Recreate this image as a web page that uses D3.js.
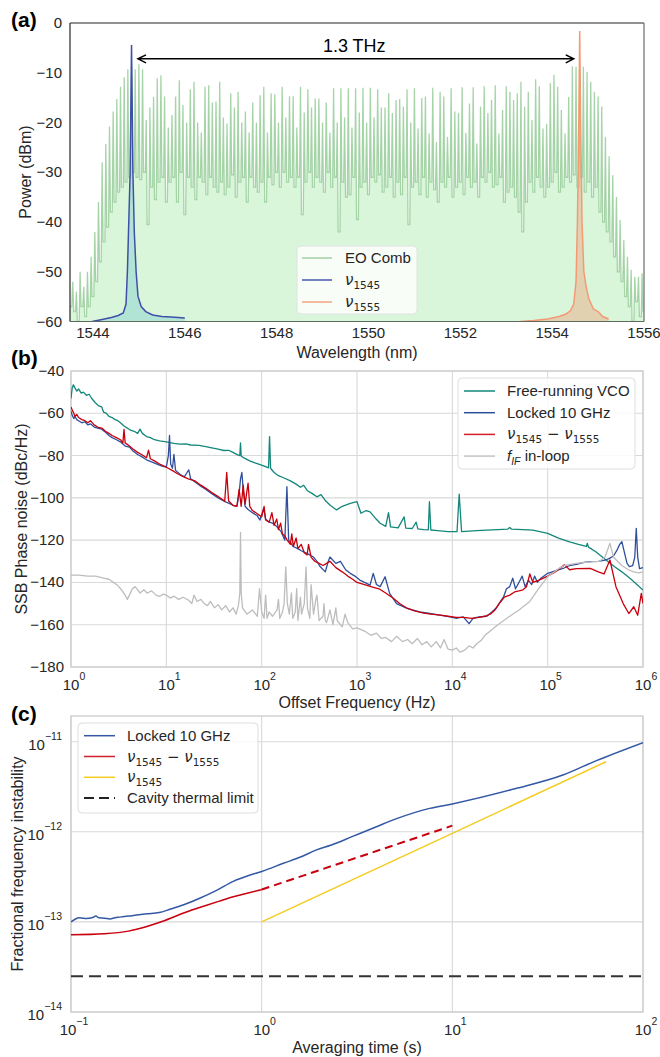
<!DOCTYPE html>
<html>
<head>
<meta charset="UTF-8">
<title>EO comb phase noise</title>
<script src="https://cdn.jsdelivr.net/npm/d3@7"></script>
<style>
body{margin:0;background:#fff;}
svg{font-family:"Liberation Sans",Arial,sans-serif;}
</style>
</head>
<body>
<div id="chart"></div>
<script>
// ---- (a) optical spectrum ----
var combStart = 1543.56, combStep = 0.08; // 10 GHz line spacing
var combPeak = [
 -52,-54,-50,-53,-50,-47,-42,-36,-28,-24.3,
 -20.8,-17.8,-15.3,-12.8,-10.9,-9.3,-8.6,-9.3,-8.3,-9.3,
 -19.5,-17,-14.9,-11.1,-10.5,-14.8,-21,-18.5,-14.8,-11.5,
 -16.5,-20,-13.3,-11.8,-20,-22,-12.8,-12.5,-16,-15.8,
 -11.8,-19,-20.2,-14.1,-17,-13.8,-20,-17.8,-22,-16,
 -20,-14.5,-12.8,-22,-14.1,-14.3,-20,-12.8,-19,-14.7,
 -14.7,-21,-12.8,-18,-13.3,-17,-15.2,-15.2,-20,-16,
 -22,-13.1,-20,-13.1,-19,-13.1,-21,-13.1,-18,-13,
 -20,-13,-19,-13.3,-17,-17,-14.1,-18.1,-15.5,-15.3,
 -16.8,-13.3,-20,-13.1,-21.2,-15.1,-14.8,-22.2,-13,-23.9,
 -13.8,-14.8,-22.9,-13.1,-17.8,-18.1,-12.9,-22.1,-16.2,-12.9,
 -24.2,-16.8,-12.7,-18.1,-15.5,-12.5,-22.2,-17.5,-12.7,-13.8,
 -15.5,-14.1,-11.8,-16.8,-13.8,-19.5,-11.3,-12.7,-21.2,-20.3,
 -12.1,-10.4,-12.8,-17.5,-22.2,-14.9,-8.7,-8.8,-9.5,-8.8,
 -9.8,-11.8,-13.8,-14.8,-16.8,-22.9,-26.8,-30.6,-35,-39.6,
 -43.6,-47,-49.6,-51,-51,-50.3
];
var combTrough = [
 -58,-60,-57,-59,-57,-55,-52,-48,-44,-41,
 -38,-36,-34,-33,-32,-31,-30,-31,-31.5,-30,
 -40.5,-33,-35.5,-32,-31,-36,-32,-31,-36,-30,
 -38.5,-31,-33,-35.5,-31,-32,-34.5,-31,-33,-34,
 -32,-34.5,-33,-30.5,-35,-32,-31,-36,-31,-33,
 -34,-32,-36,-31,-32.5,-30,-33,-30,-32,-31,
 -33,-31,-38.5,-32,-30,-33,-31,-32,-34,-30,
 -33,-31,-42,-32,-35,-34.5,-31,-39.5,-33,-32,
 -34.5,-31,-32,-30.5,-34,-33,-31,-35,-32,-34.5,
 -31,-40.5,-33,-32,-34.5,-31,-35,-32,-33.5,-36,
 -32,-33,-31,-35,-33,-32,-34.5,-31,-33,-32,
 -35,-31,-32,-30,-33,-32.5,-31,-36,-34,-33,
 -35,-38,-42,-36,-32,-34,-31,-33,-35,-33,
 -32,-30,-34,-33,-31,-32,-30.5,-33,-31,-34,
 -32,-35,-33,-38,-40,-42,-44,-47,-50,-52,
 -55,-57,-60,-56,-59,-58
];
var nu45Wl = [1543.98,1544.2,1544.4,1544.55,1544.66,1544.72,1544.75,1544.78,1544.81,1544.84,1544.87,1544.9,1544.94,1544.98,1545.05,1545.15,1545.3,1545.5,1545.7,1546.0];
var nu45Db = [-60,-59.6,-59.2,-58.8,-58.3,-56.5,-50,-40,-30,-4.4,-30,-42,-50,-54.9,-57,-58,-58.7,-59,-59.1,-59.3];
var nu55Wl = [1553.3,1553.6,1553.9,1554.15,1554.3,1554.4,1554.47,1554.52,1554.55,1554.58,1554.6,1554.62,1554.65,1554.69,1554.74,1554.8,1554.9,1555.0,1555.1,1555.23];
var nu55Db = [-60,-59.8,-59.5,-59,-58.5,-57.8,-56.5,-52,-40,-20,-1.6,-20,-40,-50,-53,-55.5,-57.5,-58,-59,-59.5];
var aXTicks = [1544,1546,1548,1550,1552,1554,1556];
var aYTicks = [-60,-50,-40,-30,-20,-10,0];

// ---- (b) phase noise: [offset Hz, dBc/Hz] ----
var vco = [[1,-53],[1.03,-48],[1.06,-46.5],[1.1,-48],[1.15,-49.5],[1.2,-48.5],[1.28,-50.5],[1.35,-50],[1.45,-51.5],[1.55,-51],[1.65,-53],[1.8,-55],[1.95,-56.5],[2.1,-57],[2.2,-59.5],[2.35,-60],[2.5,-61.5],[2.7,-62],[2.9,-63],[3.1,-63.5],[3.3,-64.5],[3.6,-66],[3.9,-67],[4.2,-68],[4.6,-68.5],[5.0,-69.5],[5.3,-67.5],[5.6,-69.5],[6.2,-71],[6.8,-71.5],[7.5,-72.5],[8.5,-73],[10,-73.5],[12,-74.2],[14,-74.6],[16,-74.5],[18,-75],[22,-75.2],[26,-75.8],[30,-76.4],[35,-77],[40,-77.6],[45,-77.5],[50,-78.5],[56,-79.7],[59,-80],[60,-74],[61,-80.3],[66,-81.2],[75,-82.5],[85,-83.5],[100,-84.5],[110,-85.2],[118,-85.8],[121,-71],[124,-86],[135,-88],[150,-89.5],[170,-90.5],[200,-92],[230,-93.5],[255,-95],[275,-94],[300,-96.5],[340,-98],[380,-99.5],[420,-98.5],[470,-101.5],[520,-103.4],[610,-105.7],[700,-104],[850,-102.6],[1000,-101.8],[1100,-107.3],[1250,-106],[1370,-106.6],[1550,-109.5],[1750,-112],[2000,-113.5],[2140,-107],[2250,-113.7],[2700,-114.2],[3120,-109],[3250,-114.3],[3800,-114.5],[4170,-111.5],[4350,-114.7],[5000,-115],[5600,-115.1],[5750,-101.8],[5950,-115.2],[7000,-115.5],[9000,-116],[11200,-116],[11800,-98.2],[12500,-116],[15000,-115.7],[20000,-115.4],[30000,-115],[38000,-114.8],[40000,-114],[42000,-114.8],[55000,-115],[70000,-115.3],[100000,-116.8],[130000,-119],[170000,-120.8],[210000,-122],[255000,-123],[260000,-121.5],[268000,-123.3],[320000,-125.5],[400000,-129],[500000,-132.5],[600000,-135],[750000,-138.5],[1000000,-143.6]];
var locked = [[1,-59],[1.03,-61],[1.07,-62.5],[1.1,-61.5],[1.15,-63],[1.2,-63.5],[1.3,-64.5],[1.4,-64],[1.5,-65.5],[1.6,-65],[1.75,-66.5],[1.9,-67],[2.1,-67.5],[2.3,-69],[2.5,-70.5],[2.7,-71.5],[3.0,-72.5],[3.3,-73.5],[3.7,-75.5],[4.1,-76],[4.5,-78],[5.0,-79.5],[5.5,-80.5],[6.2,-82],[7,-83],[8,-84],[9,-85],[10,-85.5],[10.5,-80],[10.8,-70.5],[11.1,-84],[11.6,-86],[12,-79.4],[12.5,-87],[14,-89],[15.5,-90],[16.5,-88],[17.2,-86.8],[18,-91],[20,-92.5],[23,-94.5],[26,-96],[30,-98],[35,-100],[40,-101.5],[45,-102.5],[50,-103.5],[55,-104],[58,-98],[60,-91],[62,-88],[64,-96],[67,-104],[72,-105.5],[80,-107],[90,-108.5],[96,-110.5],[105,-105],[110,-110],[120,-111.5],[130,-112],[144,-113.6],[160,-116],[175,-120],[184,-94.7],[192,-120],[214,-123],[240,-124],[260,-125],[290,-126],[320,-127],[350,-128],[380,-130],[410,-132.5],[465,-135],[500,-130],[520,-128],[600,-131],[670,-130],[760,-134],[850,-135.7],[950,-137],[1070,-138.9],[1200,-140],[1370,-141.3],[1480,-135.7],[1600,-141],[1750,-142],[1970,-137.3],[2200,-145.2],[2600,-150],[3350,-152.3],[4550,-153.9],[5800,-154.7],[7400,-155.5],[9500,-156.3],[11000,-157],[13000,-156.3],[15000,-159.5],[16500,-157],[19000,-156.3],[23000,-156],[26000,-154],[29000,-152],[32000,-149],[34500,-146.8],[37000,-143],[40000,-142],[43000,-138],[46000,-143],[50000,-140],[54000,-137],[58000,-142],[63000,-139],[68000,-141],[73000,-137],[78000,-140],[85000,-138],[100000,-135.7],[120000,-134.5],[145000,-133.4],[170000,-132],[200000,-131.5],[240000,-130.5],[280000,-130.2],[340000,-130],[400000,-129.5],[450000,-128.5],[490000,-127.5],[530000,-125],[570000,-122],[600000,-120.7],[640000,-126],[680000,-131],[720000,-132.5],[780000,-132],[820000,-128],[850000,-114.4],[880000,-128],[920000,-133.5],[1000000,-133]];
var beat = [[1,-57],[1.03,-58.5],[1.07,-60],[1.1,-61.5],[1.15,-60.5],[1.2,-62],[1.3,-63],[1.4,-63.5],[1.5,-64.5],[1.6,-63.5],[1.75,-65.5],[1.9,-66.5],[2.1,-67],[2.3,-68.5],[2.5,-69.5],[2.7,-70.5],[3.0,-71.5],[3.3,-72.5],[3.5,-74],[3.6,-67.6],[3.7,-74],[4.1,-75.5],[4.5,-77],[5.0,-78.5],[5.5,-79.5],[6.2,-81],[6.5,-77.4],[6.8,-81.5],[7.5,-82.5],[8.5,-84],[10,-85.5],[11.5,-87],[13,-88.5],[15,-90],[17,-91],[20,-92],[23,-94],[26,-95.5],[30,-97.5],[34,-99],[38,-100.5],[41,-101.5],[43,-88],[45,-101.5],[50,-103.5],[55,-104],[58,-96],[61,-104],[64,-94],[67,-103],[72,-93],[75,-104],[80,-106],[90,-107.5],[100,-109],[106,-104],[110,-110.5],[120,-111.5],[128,-107],[135,-113],[144,-110],[150,-115],[158,-112],[165,-117],[175,-118],[185,-120],[200,-122],[207,-117],[215,-123],[230,-119],[240,-124],[260,-122],[280,-126],[300,-127],[310,-122],[330,-128],[360,-130],[400,-131],[440,-132],[480,-131],[520,-130],[600,-133],[700,-135],[800,-137],[900,-138.5],[1000,-140],[1200,-141],[1400,-142],[1700,-143],[2000,-145],[2400,-147.5],[2800,-150],[3300,-152],[4000,-153.5],[5000,-154.5],[6000,-155],[7500,-155.5],[9000,-156],[11000,-156.5],[13000,-156.5],[16000,-157],[19000,-156.5],[22000,-156],[25000,-155],[28000,-153],[31000,-150],[35000,-147],[40000,-146],[45000,-144.5],[50000,-144],[55000,-143.5],[60000,-142],[65000,-136],[70000,-140],[80000,-139],[100000,-137],[120000,-135],[150000,-131.7],[170000,-134],[200000,-133.5],[280000,-133.4],[340000,-135],[390000,-136],[450000,-129.4],[520000,-142],[620000,-150],[710000,-154.7],[800000,-151.5],[880000,-155.5],[960000,-145.2],[1000000,-150]];
var fif = [[1,-136.5],[1.2,-136.5],[1.5,-137],[1.8,-137],[2.0,-137.5],[2.2,-138],[2.5,-138.5],[2.8,-140],[3.1,-141.5],[3.4,-143.6],[3.7,-146],[3.9,-148],[4.1,-146],[4.4,-143],[4.7,-142],[5.0,-143.5],[5.3,-145],[5.8,-143.5],[6.3,-145],[7,-144],[7.8,-146],[8.5,-146.6],[9.3,-145.5],[10,-146],[11,-147.4],[12,-146.5],[13.5,-148],[15,-147],[17,-148.3],[18.5,-150],[19.5,-146],[21,-149],[23,-148],[25,-150],[27,-151],[29,-149],[32,-152],[35,-150.5],[38,-153],[42,-151],[46,-154],[50,-152],[54,-155],[57,-151],[59,-145],[60,-116.3],[61,-145],[63,-152],[70,-155],[80,-153],[90,-156],[95,-143],[100,-154],[106,-157],[110,-146],[114,-157],[120,-154],[130,-156],[145,-153],[150,-148],[155,-157],[165,-154],[172,-150],[179,-132.6],[186,-150],[195,-155],[205,-145],[212,-157],[225,-154],[233,-143],[240,-158],[255,-147],[262,-155],[280,-150],[292,-132.6],[302,-152],[320,-157],[330,-141],[350,-155],[370,-148],[380,-146],[400,-158],[440,-156],[450,-150],[465,-158],[480,-159],[520,-153],[560,-160],[600,-152],[620,-158],[700,-161],[750,-155],[800,-159],[900,-162],[1000,-161.5],[1200,-163],[1400,-165],[1600,-164],[1800,-166.5],[2000,-166],[2300,-168],[2600,-165.5],[3000,-168],[3400,-167],[3800,-169],[4300,-166.5],[4800,-169.5],[5400,-168],[6000,-170.5],[6800,-168],[7500,-171],[8200,-167],[9000,-171.5],[10000,-172],[11000,-171],[12000,-173],[13500,-172],[15000,-170],[16500,-171],[18000,-169],[20000,-167.5],[22000,-165],[25000,-163],[30000,-160],[40000,-156],[50000,-153],[65000,-149],[80000,-143],[100000,-137.3],[130000,-133.5],[150000,-132],[200000,-131],[250000,-130.5],[300000,-130.2],[350000,-130],[400000,-128],[450000,-121.5],[490000,-128],[540000,-130],[600000,-132],[700000,-134],[800000,-135],[900000,-135.5],[1000000,-135]];
var bXTicks = [1,10,100,1000,10000,100000,1000000];
var bYTicks = [-180,-160,-140,-120,-100,-80,-60,-40];

// ---- (c) Allan deviation ----
var lockedTau = [0.1,0.105,0.11,0.115,0.12,0.13,0.135,0.14,0.15,0.16,0.17,0.18,0.19,0.2,0.22,0.25,0.29,0.33,0.39,0.47,0.58,0.71,0.87,1.0,1.3,1.6,1.94,2.3,3.0,4.0,5.1,7.6,10,21.5,38,57,100];
var lockedSig = [1.00e-13,1.07e-13,1.11e-13,1.10e-13,1.09e-13,1.12e-13,1.16e-13,1.11e-13,1.10e-13,1.08e-13,1.11e-13,1.13e-13,1.15e-13,1.16e-13,1.19e-13,1.23e-13,1.27e-13,1.38e-13,1.55e-13,1.82e-13,2.24e-13,2.82e-13,3.31e-13,3.63e-13,4.47e-13,5.25e-13,6.31e-13,7.08e-13,8.9e-13,1.14e-12,1.40e-12,1.82e-12,2.04e-12,3.02e-12,4.27e-12,6.17e-12,9.77e-12];
var beatTau = [0.1,0.15,0.2,0.25,0.3,0.4,0.5,0.6,0.71,0.8,1.0];
var beatSig = [7.2e-14,7.4e-14,7.9e-14,8.9e-14,1.01e-13,1.28e-13,1.50e-13,1.70e-13,1.90e-13,2.03e-13,2.29e-13];
var beatExtTau = [1,10];
var beatExtSig = [2.29e-13,1.17e-12];
var nu45Tau = [1,10,64];
var nu45Sig = [1.0e-13,9.6e-13,6.0e-12];
var thermalTau = [0.1,100];
var thermalSig = [2.5e-14,2.5e-14];
var cXTicks = [0.1,1,10,100];
var cXExp = ["\u22121","0","1","2"];
var cYTicks = [1e-14,1e-13,1e-12,1e-11];
var cYExp = ["\u221214","\u221213","\u221212","\u221211"];

var svg = d3.select("#chart").append("svg").attr("width",660).attr("height",1057);
var defs = svg.append("defs");
function clip(id,x0,y0,x1,y1){
	defs.append("clipPath").attr("id",id).append("rect")
		.attr("x",x0).attr("y",y0).attr("width",x1-x0).attr("height",y1-y0);
}
var mathFont = "DejaVu Sans";
function nuLabel(t,sub){
	t.append("tspan").attr("font-family",mathFont).attr("font-style","italic").text("\u03bd");
	t.append("tspan").attr("font-family",mathFont).attr("font-size",10.5).attr("dy",4).text(sub);
}
function supText(t,base,exp){
	t.append("tspan").text(base);
	t.append("tspan").attr("font-size",10.5).attr("dy",-10).text(exp);
}

// ================= panel (a) =================
var xA = d3.scaleLinear().domain([1543.5,1556]).range([70,644]);
var yA = d3.scaleLinear().domain([-60,0]).range([321.5,23]);
clip("clipA",70,23,644,321.5);
var gA = svg.append("g").attr("clip-path","url(#clipA)");

// each comb line: narrow spike from the previous trough up to the peak, down to its own trough
var combPts = [[1543.5,-57]];
combPeak.forEach(function(p,i){
	var w = combStart + i*combStep;
	var tPrev = i ? combTrough[i-1] : -57;
	combPts.push([w-0.02,tPrev]);
	combPts.push([w,p]);
	combPts.push([w+0.02,combTrough[i]]);
});
combPts.push([1556,-58]);
var areaA = d3.area().x(function(d){return xA(d[0]);}).y0(yA(-60)).y1(function(d){return yA(d[1]);});
var lineA = d3.line().x(function(d){return xA(d[0]);}).y(function(d){return yA(d[1]);});
gA.append("path").datum(combPts).attr("d",areaA).attr("fill","#d9f6db");
gA.append("path").datum(combPts).attr("d",lineA).attr("fill","none")
	.attr("stroke","#9ccf9f").attr("stroke-opacity",0.9).attr("stroke-width",1.3);

var p45 = nu45Wl.map(function(w,i){return [w,nu45Db[i]];});
var p55 = nu55Wl.map(function(w,i){return [w,nu55Db[i]];});
gA.append("path").datum(p45).attr("d",areaA).attr("fill","#8fd6cf").attr("fill-opacity",0.55);
gA.append("path").datum(p55).attr("d",areaA).attr("fill","#eea57f").attr("fill-opacity",0.45);
gA.append("path").datum(p45).attr("d",lineA).attr("fill","none").attr("stroke","#3f4fa8").attr("stroke-width",1.5);
gA.append("path").datum(p55).attr("d",lineA).attr("fill","none").attr("stroke","#f39a75").attr("stroke-width",1.5);

// spines
svg.append("line").attr("x1",70).attr("x2",644).attr("y1",23).attr("y2",23).attr("stroke","#262626").attr("stroke-width",1.2);
svg.append("line").attr("x1",70).attr("x2",70).attr("y1",23).attr("y2",321.5).attr("stroke","#262626").attr("stroke-width",1.2);
svg.append("line").attr("x1",644).attr("x2",644).attr("y1",23).attr("y2",321.5).attr("stroke","#6b6b6b").attr("stroke-width",1.2);
svg.append("line").attr("x1",70).attr("x2",644).attr("y1",321.5).attr("y2",321.5).attr("stroke","#5c6b5c").attr("stroke-width",1.2);

svg.append("g").selectAll("text").data(aXTicks).enter().append("text")
	.attr("x",function(d){return xA(d);}).attr("y",338).attr("text-anchor","middle")
	.attr("font-size",15).attr("fill","#262626").text(function(d){return d;});
svg.append("g").selectAll("text").data(aYTicks).enter().append("text")
	.attr("x",62).attr("y",function(d){return yA(d)+5;}).attr("text-anchor","end")
	.attr("font-size",15).attr("fill","#262626").text(d3.format("d"));

// 1.3 THz arrow
var ay = yA(-7.2), ax0 = xA(1544.98), ax1 = xA(1554.47);
svg.append("path").attr("d","M"+ax0+","+ay+"H"+ax1+
	"M"+(ax0+8)+","+(ay-4)+"L"+ax0+","+ay+"L"+(ax0+8)+","+(ay+4)+
	"M"+(ax1-8)+","+(ay-4)+"L"+ax1+","+ay+"L"+(ax1-8)+","+(ay+4))
	.attr("fill","none").attr("stroke","#000").attr("stroke-width",1.5);
svg.append("text").attr("x",xA(1549.69)).attr("y",yA(-5.8)).attr("text-anchor","middle")
	.attr("font-size",18).text("1.3 THz");

// legend (a)
svg.append("rect").attr("x",297).attr("y",246).attr("width",120).attr("height",68).attr("rx",4)
	.attr("fill","#fff").attr("fill-opacity",0.8).attr("stroke","#e2e2e2");
var legA = [{c:"#a3d1a5",t:"EO Comb"},{c:"#4757b0",s:"1545"},{c:"#f5a482",s:"1555"}];
legA.forEach(function(d,i){
	var yy = 258 + i*22;
	svg.append("line").attr("x1",302).attr("x2",332).attr("y1",yy).attr("y2",yy).attr("stroke",d.c).attr("stroke-width",1.5);
	var t = svg.append("text").attr("x",345).attr("y",yy+5).attr("font-size",15).attr("fill","#262626");
	if(d.t) t.text(d.t); else nuLabel(t,d.s);
});
svg.append("text").attr("x",357).attr("y",358).attr("text-anchor","middle").attr("font-size",16).attr("fill","#262626").text("Wavelength (nm)");
svg.append("text").attr("transform","translate(31,172) rotate(-90)").attr("text-anchor","middle").attr("font-size",16).attr("fill","#262626").text("Power (dBm)");
svg.append("text").attr("x",11).attr("y",27).attr("font-size",21).attr("font-weight","bold").text("(a)");

// ================= panel (b) =================
var xB = d3.scaleLog().domain([1,1e6]).range([71,643]);
var yB = d3.scaleLinear().domain([-180,-40]).range([667,371]);
var gB = svg.append("g");
gB.selectAll(".gx").data(bXTicks).enter().append("line")
	.attr("x1",function(d){return xB(d);}).attr("x2",function(d){return xB(d);})
	.attr("y1",371).attr("y2",667).attr("stroke","#d9d9d9").attr("stroke-width",1.1);
gB.selectAll(".gy").data(bYTicks).enter().append("line")
	.attr("y1",function(d){return yB(d);}).attr("y2",function(d){return yB(d);})
	.attr("x1",71).attr("x2",643).attr("stroke","#d9d9d9").attr("stroke-width",1.1);
gB.append("rect").attr("x",71).attr("y",371).attr("width",572).attr("height",296)
	.attr("fill","none").attr("stroke","#cccccc").attr("stroke-width",1.3);
clip("clipB",71,371,643,667);
var lineB = d3.line().x(function(d){return xB(d[0]);}).y(function(d){return yB(d[1]);});
var pB = svg.append("g").attr("clip-path","url(#clipB)");
[[vco,"#13877a"],[locked,"#2f4f9c"],[beat,"#c8000e"],[fif,"#bdbdbd"]].forEach(function(s){
	pB.append("path").datum(s[0]).attr("d",lineB).attr("fill","none")
		.attr("stroke",s[1]).attr("stroke-width",1.3).attr("stroke-linejoin","round");
});
svg.append("g").selectAll("text").data(bYTicks).enter().append("text")
	.attr("x",64).attr("y",function(d){return yB(d)+5;}).attr("text-anchor","end")
	.attr("font-size",15).attr("fill","#262626").text(d3.format("d"));
bXTicks.forEach(function(d,i){
	var t = svg.append("text").attr("x",xB(d)+3).attr("y",690).attr("text-anchor","middle")
		.attr("font-size",15).attr("fill","#262626");
	supText(t,"10",String(i));
});
svg.append("text").attr("x",357).attr("y",708).attr("text-anchor","middle").attr("font-size",16).attr("fill","#262626").text("Offset Frequency (Hz)");
svg.append("text").attr("transform","translate(27,519) rotate(-90)").attr("text-anchor","middle").attr("font-size",16).attr("fill","#262626").text("SSB Phase noise (dBc/Hz)");
svg.append("text").attr("x",11).attr("y",365).attr("font-size",21).attr("font-weight","bold").text("(b)");

// legend (b)
svg.append("rect").attr("x",458).attr("y",378).attr("width",177).attr("height",91).attr("rx",4)
	.attr("fill","#fff").attr("fill-opacity",0.85).attr("stroke","#dedede");
var legB = ["#13877a","#2f4f9c","#d0202a","#c4c4c4"];
legB.forEach(function(c,i){
	var yy = 391 + i*21.7;
	svg.append("line").attr("x1",464).attr("x2",495).attr("y1",yy).attr("y2",yy).attr("stroke",c).attr("stroke-width",1.5);
	var t = svg.append("text").attr("x",507).attr("y",yy+5).attr("font-size",15).attr("fill","#262626");
	if(i==0) t.text("Free-running VCO");
	else if(i==1) t.text("Locked 10 GHz");
	else if(i==2){ nuLabel(t,"1545"); t.append("tspan").attr("dy",-4).attr("font-family",mathFont).text(" \u2212 "); nuLabel(t,"1555"); }
	else {
		t.append("tspan").attr("font-style","italic").text("f");
		t.append("tspan").attr("font-style","italic").attr("font-size",10.5).attr("dy",4).text("IF");
		t.append("tspan").attr("dy",-4).text(" in-loop");
	}
});

// ================= panel (c) =================
var xC = d3.scaleLog().domain([0.1,100]).range([71,643]);
var yC = d3.scaleLog().domain([1e-14,1.93e-11]).range([1012,716]);
var gC = svg.append("g");
gC.selectAll(".gx").data(cXTicks).enter().append("line")
	.attr("x1",function(d){return xC(d);}).attr("x2",function(d){return xC(d);})
	.attr("y1",716).attr("y2",1012).attr("stroke","#d9d9d9").attr("stroke-width",1.1);
gC.selectAll(".gy").data(cYTicks).enter().append("line")
	.attr("y1",function(d){return yC(d);}).attr("y2",function(d){return yC(d);})
	.attr("x1",71).attr("x2",643).attr("stroke","#d9d9d9").attr("stroke-width",1.1);
gC.append("rect").attr("x",71).attr("y",716).attr("width",572).attr("height",296)
	.attr("fill","none").attr("stroke","#cccccc").attr("stroke-width",1.3);
clip("clipC",71,716,643,1012);
var pC = svg.append("g").attr("clip-path","url(#clipC)");
function zipC(a,b){return a.map(function(v,i){return [v,b[i]];});}
var lineC = d3.line().x(function(d){return xC(d[0]);}).y(function(d){return yC(d[1]);}).curve(d3.curveMonotoneX);
pC.append("path").datum(zipC(thermalTau,thermalSig)).attr("d",lineC).attr("fill","none")
	.attr("stroke","#333").attr("stroke-width",2).attr("stroke-dasharray","12,6");
pC.append("path").datum(zipC(nu45Tau,nu45Sig)).attr("d",lineC).attr("fill","none")
	.attr("stroke","#f4cc1f").attr("stroke-width",1.5);
pC.append("path").datum(zipC(beatExtTau,beatExtSig)).attr("d",lineC).attr("fill","none")
	.attr("stroke","#c8000e").attr("stroke-width",2).attr("stroke-dasharray","8,5");
pC.append("path").datum(zipC(beatTau,beatSig)).attr("d",lineC).attr("fill","none")
	.attr("stroke","#c8000e").attr("stroke-width",1.5);
pC.append("path").datum(zipC(lockedTau,lockedSig)).attr("d",lineC).attr("fill","none")
	.attr("stroke","#3358a4").attr("stroke-width",1.5);

cXTicks.forEach(function(d,i){
	var t = svg.append("text").attr("x",xC(d)+3).attr("y",1035).attr("text-anchor","middle")
		.attr("font-size",15).attr("fill","#262626");
	supText(t,"10",cXExp[i]);
});
cYTicks.forEach(function(d,i){
	var t = svg.append("text").attr("x",62).attr("y",yC(d)+8).attr("text-anchor","end")
		.attr("font-size",15).attr("fill","#262626");
	supText(t,"10",cYExp[i]);
});
svg.append("text").attr("x",357).attr("y",1053).attr("text-anchor","middle").attr("font-size",16).attr("fill","#262626").text("Averaging time (s)");
svg.append("text").attr("transform","translate(23,864) rotate(-90)").attr("text-anchor","middle").attr("font-size",16).attr("fill","#262626").text("Fractional frequency instability");
svg.append("text").attr("x",11).attr("y",721).attr("font-size",21).attr("font-weight","bold").text("(c)");

// legend (c)
svg.append("rect").attr("x",78).attr("y",723).attr("width",180).attr("height",90).attr("rx",4)
	.attr("fill","#fff").attr("fill-opacity",0.85).attr("stroke","#dedede");
var legC = [{c:"#3358a4",t:"Locked 10 GHz"},{c:"#d0202a",b:1},{c:"#f4cc1f",s:"1545"},{c:"#222",t:"Cavity thermal limit",d:"10,5"}];
legC.forEach(function(d,i){
	var yy = 735.7 + i*20.8;
	svg.append("line").attr("x1",84).attr("x2",115).attr("y1",yy).attr("y2",yy).attr("stroke",d.c)
		.attr("stroke-width",d.d?2:1.5).attr("stroke-dasharray",d.d||null);
	var t = svg.append("text").attr("x",127).attr("y",yy+5).attr("font-size",15).attr("fill","#262626");
	if(d.t) t.text(d.t);
	else if(d.b){ nuLabel(t,"1545"); t.append("tspan").attr("dy",-4).attr("font-family",mathFont).text(" \u2212 "); nuLabel(t,"1555"); }
	else nuLabel(t,d.s);
});
</script>
</body>
</html>
